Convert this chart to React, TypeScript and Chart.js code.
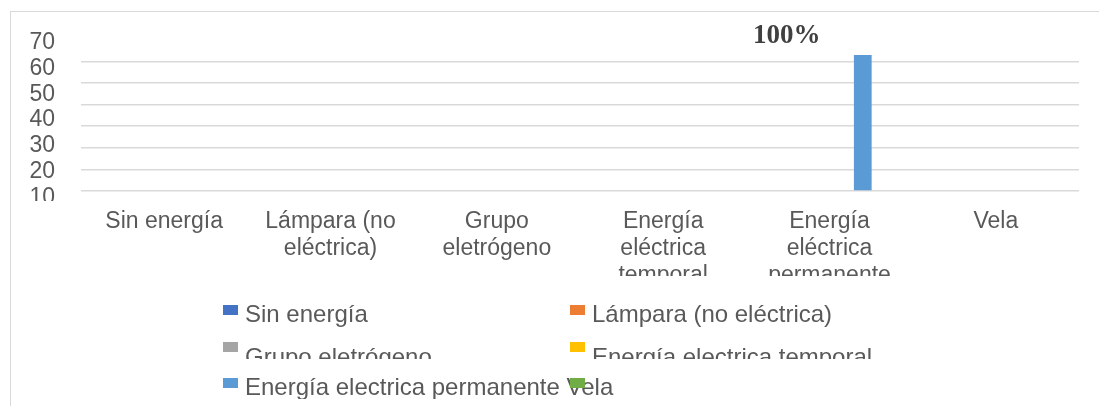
import React, { useEffect, useRef } from 'react';
import { Chart, registerables } from 'chart.js';

Chart.register(...registerables);

// ---- data ----
const CATEGORIES: string[][] = [
  ['Sin energía'],
  ['Lámpara (no', 'eléctrica)'],
  ['Grupo', 'eletrógeno'],
  ['Energía', 'eléctrica', 'temporal'],
  ['Energía', 'eléctrica', 'permanente'],
  ['Vela'],
];
const SERIES_NAMES = [
  'Sin energía',
  'Lámpara (no eléctrica)',
  'Grupo eletrógeno',
  'Energía electrica temporal',
  'Energía electrica permanente',
  'Vela',
];
const SERIES_COLORS = ['#4472C4', '#ED7D31', '#A5A5A5', '#FFC000', '#5B9BD5', '#70AD47'];
const SIN_ENERGIA = [0, 0, 0, 0, 0, 0];
const LAMPARA = [0, 0, 0, 0, 0, 0];
const GRUPO = [0, 0, 0, 0, 0, 0];
const TEMPORAL = [0, 0, 0, 0, 0, 0];
const PERMANENTE = [0, 0, 0, 0, 63, 0];
const VELA = [0, 0, 0, 0, 0, 0];
const SERIES_VALUES = [SIN_ENERGIA, LAMPARA, GRUPO, TEMPORAL, PERMANENTE, VELA];

const Y_TICK_LABELS = [10, 20, 30, 40, 50, 60, 70];
const Y_GRID_MIN = 0;
const Y_GRID_MAX = 70;
const Y_GRID_STEP = 10;
const Y_LABEL_MIN = 12.42;
const Y_LABEL_MAX = 71.14;

const SANS = "'Liberation Sans', Arial, sans-serif";
const SERIF = "'Liberation Serif', 'Times New Roman', serif";
const TEXT = '#595959';

function clipScaleLabels(chart: any, scaleId: string, maxY: number) {
  const s = chart.scales[scaleId];
  if (!s || s.__clipped) return;
  const orig = s.drawLabels.bind(s);
  s.drawLabels = (area: any) => {
    const ctx = chart.ctx;
    ctx.save();
    ctx.beginPath();
    ctx.rect(0, 0, chart.width, maxY);
    ctx.clip();
    orig(area);
    ctx.restore();
  };
  s.__clipped = true;
}

const clipPlugin = {
  id: 'clipLabels',
  afterLayout(chart: any) {
    clipScaleLabels(chart, 'y2', chart.chartArea.bottom + 10);
  },
};

const categoryLabelPlugin = {
  id: 'categoryLabels',
  afterDraw(chart: any) {
    const ctx = chart.ctx;
    const xs = chart.scales.x;
    const bottom = chart.chartArea.bottom;
    ctx.save();
    ctx.beginPath();
    ctx.rect(0, 0, chart.width, bottom + 85);
    ctx.clip();
    ctx.font = `23px ${SANS}`;
    ctx.fillStyle = TEXT;
    ctx.textAlign = 'center';
    ctx.textBaseline = 'alphabetic';
    (chart.data.labels as string[][]).forEach((lines, i) => {
      const x = xs.getPixelForTick(i);
      lines.forEach((line, li) => {
        ctx.fillText(line, x, bottom + 37 + li * 27);
      });
    });
    ctx.restore();
  },
};

const pctLabelPlugin = {
  id: 'pctLabel',
  afterDatasetsDraw(chart: any) {
    const ctx = chart.ctx;
    const total = chart.data.datasets.reduce(
      (a: number, d: any) => a + d.data.reduce((x: number, y: number) => x + y, 0),
      0
    );
    chart.data.datasets.forEach((d: any, di: number) => {
      const meta = chart.getDatasetMeta(di);
      d.data.forEach((v: number, i: number) => {
        if (!v) return;
        const el = meta.data[i];
        ctx.save();
        ctx.font = `bold 27px ${SERIF}`;
        ctx.fillStyle = '#404040';
        ctx.textAlign = 'center';
        ctx.textBaseline = 'middle';
        ctx.fillText(`${Math.round((v / total) * 100)}%`, el.x - 76, el.y - 18.5);
        ctx.restore();
      });
    });
  },
};

const gridLegendPlugin = {
  id: 'gridLegend',
  afterDraw(chart: any) {
    const ctx = chart.ctx;
    const ds = chart.data.datasets;
    const cols = [223, 570];
    const rows = [
      { box: 305, base: 322, clip: 0 },
      { box: 342, base: 365, clip: 359 },
      { box: 378, base: 395, clip: 399 },
    ];
    const gap = 22;
    ctx.save();
    ctx.font = `24px ${SANS}`;
    ctx.fillStyle = TEXT;
    ctx.textBaseline = 'alphabetic';
    ctx.textAlign = 'left';
    ds.forEach((d: any, i: number) => {
      const r = Math.floor(i / 2);
      const c = i % 2;
      let tx = cols[c] + gap;
      if (c === 1) {
        const prevEnd = cols[0] + gap + ctx.measureText(ds[i - 1].label).width;
        if (prevEnd > cols[1] - 15) tx = prevEnd + ctx.measureText(' ').width;
      }
      ctx.save();
      if (rows[r].clip) {
        ctx.beginPath();
        ctx.rect(0, 0, chart.width, rows[r].clip);
        ctx.clip();
      }
      ctx.fillText(d.label, tx, rows[r].base);
      ctx.restore();
    });
    ds.forEach((d: any, i: number) => {
      const r = Math.floor(i / 2);
      const c = i % 2;
      ctx.fillStyle = d.backgroundColor;
      ctx.fillRect(cols[c], rows[r].box, 15, 10);
    });
    ctx.restore();
  },
};

export default function App() {
  const ref = useRef<HTMLCanvasElement | null>(null);

  useEffect(() => {
    if (!ref.current) return;
    const chart = new Chart(ref.current, {
      type: 'bar',
      data: {
        labels: CATEGORIES,
        datasets: SERIES_NAMES.map((name, i) => ({
          label: name,
          data: SERIES_VALUES[i],
          backgroundColor: SERIES_COLORS[i],
          borderWidth: 0,
          categoryPercentage: 0.8,
          barPercentage: 0.8,
          yAxisID: 'y',
        })),
      },
      options: {
        responsive: false,
        animation: false,
        devicePixelRatio: 1,
        layout: { padding: { left: 0, right: 20, top: 36, bottom: 215 } },
        plugins: {
          legend: { display: false },
          tooltip: { enabled: false },
        },
        scales: {
          x: {
            grid: { display: false, drawTicks: false },
            border: { display: false },
            ticks: { display: false },
            afterFit: (s: any) => {
              s.height = 0;
            },
          },
          y: {
            position: 'left',
            weight: 0,
            min: Y_GRID_MIN,
            max: Y_GRID_MAX,
            ticks: { display: false, stepSize: Y_GRID_STEP },
            border: { display: false },
            grid: {
              drawTicks: false,
              lineWidth: 1.5,
              color: (c: any) => (c.tick && c.tick.value === Y_GRID_MAX ? 'rgba(0,0,0,0)' : '#d9d9d9'),
            },
            afterFit: (s: any) => {
              s.width = 0;
            },
          },
          y2: {
            position: 'left',
            weight: 1,
            min: Y_LABEL_MIN,
            max: Y_LABEL_MAX,
            grid: { display: false, drawTicks: false },
            border: { display: false },
            ticks: {
              color: TEXT,
              font: { family: SANS, size: 23 },
              padding: 26,
              autoSkip: false,
            },
            afterBuildTicks: (s: any) => {
              s.ticks = Y_TICK_LABELS.map((v) => ({ value: v }));
            },
            afterFit: (s: any) => {
              s.width = 81;
            },
          },
        },
      },
      plugins: [clipPlugin, categoryLabelPlugin, pctLabelPlugin, gridLegendPlugin],
    } as any);
    return () => chart.destroy();
  }, []);

  return (
    <div
      style={{
        position: 'fixed',
        left: 0,
        top: 0,
        width: 1099,
        height: 406,
        overflow: 'hidden',
        background: '#fff',
      }}
    >
      <div
        style={{
          position: 'absolute',
          left: 10,
          top: 11,
          width: 1300,
          height: 700,
          border: '1px solid #d9d9d9',
        }}
      />
      <canvas ref={ref} width={1099} height={406} style={{ position: 'absolute', left: 0, top: 0 }} />
    </div>
  );
}
